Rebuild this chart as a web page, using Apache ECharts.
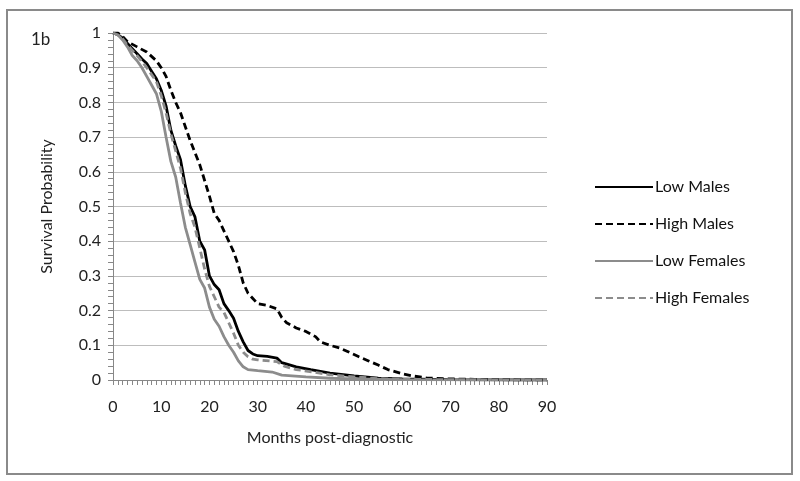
<!DOCTYPE html>
<html><head><meta charset="utf-8">
<script src="https://cdn.jsdelivr.net/npm/echarts@6/dist/echarts.min.js"></script>
<style>html,body{margin:0;padding:0;background:#fff}#c{width:800px;height:481px}</style>
</head><body><div id="c"></div>
<script>
const seriesNames = ['Low Males','High Males','Low Females','High Females'];
const lowMales = [[0,1],[1,0.995],[2,0.985],[3,0.97],[4,0.955],[5,0.94],[6,0.925],[7,0.912],[8,0.89],[9,0.868],[10,0.835],[11,0.79],[12,0.72],[13,0.675],[14,0.635],[15,0.56],[16,0.5],[17,0.47],[18,0.4],[19,0.375],[20,0.3],[21,0.275],[22,0.26],[23,0.22],[24,0.2],[25,0.178],[26,0.14],[27,0.11],[28,0.085],[29,0.075],[30,0.07],[32,0.068],[34,0.063],[35,0.05],[38,0.038],[41,0.03],[45,0.02],[50,0.012],[55,0.005],[60,0.003],[70,0.001],[90,0]];
const highMales = [[0,1],[1,1],[2,0.99],[3,0.975],[5,0.96],[7,0.945],[9,0.92],[10,0.9],[11,0.875],[12,0.835],[13,0.8],[14,0.77],[15,0.73],[16,0.69],[17,0.655],[18,0.62],[19,0.575],[20,0.53],[21,0.48],[22,0.46],[23,0.43],[24,0.4],[25,0.37],[26,0.33],[27,0.28],[28,0.25],[29,0.235],[30,0.22],[32,0.215],[34,0.205],[35,0.18],[36,0.165],[38,0.15],[40,0.14],[42,0.125],[43,0.11],[45,0.1],[47,0.092],[49,0.08],[51,0.067],[53,0.055],[55,0.043],[57,0.03],[60,0.018],[62,0.012],[65,0.006],[70,0.003],[75,0.002],[80,0.001],[90,0]];
const lowFemales = [[0,1],[1,0.995],[2,0.98],[3,0.96],[4,0.935],[5,0.92],[6,0.9],[7,0.875],[8,0.85],[9,0.825],[10,0.775],[11,0.7],[12,0.63],[13,0.585],[14,0.51],[15,0.44],[16,0.39],[17,0.34],[18,0.29],[19,0.265],[20,0.21],[21,0.175],[22,0.155],[23,0.125],[24,0.1],[25,0.08],[26,0.055],[27,0.038],[28,0.03],[30,0.027],[33,0.023],[35,0.014],[40,0.009],[45,0.005],[50,0.003],[60,0.001],[90,0]];
const highFemales = [[0,1],[1,0.995],[2,0.983],[3,0.965],[4,0.95],[5,0.935],[6,0.918],[7,0.9],[8,0.88],[9,0.86],[10,0.82],[11,0.77],[12,0.71],[13,0.66],[14,0.61],[15,0.54],[16,0.48],[17,0.44],[18,0.38],[19,0.32],[20,0.27],[21,0.24],[22,0.21],[23,0.195],[24,0.165],[25,0.135],[26,0.1],[27,0.08],[28,0.067],[29,0.06],[30,0.058],[34,0.053],[35.5,0.04],[38,0.03],[42,0.022],[45,0.015],[50,0.009],[55,0.004],[60,0.002],[70,0.001],[90,0]];
const xTicks = [0,10,20,30,40,50,60,70,80,90];
const yTicks = [0,0.1,0.2,0.3,0.4,0.5,0.6,0.7,0.8,0.9,1];

const font = 'Lato, "Open Sans", sans-serif';
const chart = echarts.init(document.getElementById('c'), null, {renderer:'canvas'});
const mk = (name, data, color, dashed) => ({
  name, type:'line', data, showSymbol:false, symbol:'none', smooth:false,
  lineStyle:{color, width:2.8, type: dashed ? [7,4] : 'solid'},
  itemStyle:{color}, z: dashed ? 3 : 2
});
chart.setOption({
  animation:false,
  backgroundColor:'#fff',
  grid:{left:113, right:253, top:33, bottom:101, containLabel:false},
  xAxis:{type:'value', min:0, max:90, interval:10,
    name:'Months post-diagnostic', nameLocation:'middle', nameGap:50,
    nameTextStyle:{fontFamily:font, fontSize:16, color:'#222'},
    axisLine:{show:true, onZero:false, lineStyle:{color:'#888', width:1}},
    axisTick:{show:true, length:5, lineStyle:{color:'#888'}},
    minorTick:{show:true, splitNumber:10, length:5, lineStyle:{color:'#888'}},
    axisLabel:{fontFamily:font, fontSize:16, color:'#222', margin:19,
      formatter: v => xTicks.includes(v) ? String(v) : ''},
    splitLine:{show:false}},
  yAxis:{type:'value', min:0, max:1, interval:0.1,
    name:'Survival Probability', nameLocation:'middle', nameGap:58, nameRotate:90,
    nameTextStyle:{fontFamily:font, fontSize:16, color:'#222'},
    axisLine:{show:true, lineStyle:{color:'#888', width:1}},
    axisTick:{show:true, length:5, lineStyle:{color:'#888'}},
    minorTick:{show:true, splitNumber:5, length:5, lineStyle:{color:'#888'}},
    axisLabel:{fontFamily:font, fontSize:16, color:'#222', margin:12,
      formatter: v => { const t = yTicks.find(k => Math.abs(k - v) < 1e-6); return t === undefined ? '' : String(Math.round(t*10)/10); }},
    splitLine:{show:true, lineStyle:{color:'#bdbdbd', width:1}}},
  legend:{orient:'vertical', left:589, top:174, itemGap:21, itemWidth:58, itemHeight:14,
    data:seriesNames, itemStyle:{opacity:0},
    textStyle:{fontFamily:font, fontSize:16, color:'#111', padding:[0,0,0,-3]}},
  graphic:[
    {type:'rect', shape:{x:7, y:10, width:785, height:464}, style:{fill:'none', stroke:'#8a8a8a', lineWidth:2}, z:-1},
    {type:'text', left:31, top:31, style:{text:'1b', font:'17px Lato, "Open Sans", sans-serif', fill:'#222'}}
  ],
  series:[
    mk(seriesNames[0], lowMales, '#000', false),
    mk(seriesNames[1], highMales, '#000', true),
    mk(seriesNames[2], lowFemales, '#8c8c8c', false),
    mk(seriesNames[3], highFemales, '#8c8c8c', true)
  ]
});
</script></body></html>
